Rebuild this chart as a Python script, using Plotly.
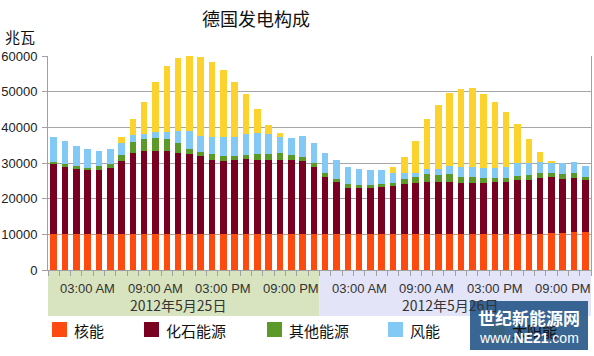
import plotly.graph_objects as go

# ---------------- data ----------------
hours = list(range(48))  # 48 hourly bars, 2 days
nuclear = [10200]*24 + [10100]*20 + [10400, 10500, 10600, 10600]
fossil = [19400, 18800, 18100, 17800, 17800, 18400, 20400, 22700, 23200, 23200, 23300, 22700,
          22300, 21800, 20600, 20500, 20600, 21000, 20600, 20600, 20600, 20700, 20400, 18800,
          16100, 14700, 12900, 12800, 12900, 13300, 13400, 14000, 14400, 14700, 14700, 14700,
          14400, 14400, 14400, 14700, 14700, 15000, 15100, 15800, 15800, 15100, 15200, 14500]
other = [700, 700, 800, 700, 1200, 1200, 1700, 3100, 3300, 3700, 3200, 2800,
         1300, 1200, 1700, 1300, 1200, 1100, 1700, 1700, 2100, 1400, 1200, 1100,
         900, 700, 1000, 800, 800, 700, 1000, 1400, 1700, 2100, 1800, 2100,
         1700, 1700, 1200, 900, 900, 1300, 1400, 1400, 1100, 1300, 1500, 1100]
wind = [7000, 6500, 5700, 5200, 4200, 4000, 3400, 1900, 1400, 1600, 2100, 3400,
        5300, 4500, 4900, 5400, 5400, 5800, 5800, 5600, 4300, 4700, 5700, 5500,
        5700, 5300, 4900, 4600, 4200, 3800, 2600, 1800, 1100, 1400, 1600, 2300,
        2800, 2800, 3000, 3000, 3300, 3500, 3300, 2900, 2600, 3000, 3100, 3100]
solar = [0, 0, 0, 0, 0, 0, 1700, 4500, 9100, 14100, 18500, 20400,
         20800, 22100, 20900, 18700, 15400, 11300, 6900, 2600, 1100, 0, 0, 0,
         0, 0, 0, 0, 0, 0, 1900, 4500, 9000, 14000, 18100, 20300,
         21700, 21900, 20700, 18500, 15400, 11000, 6800, 3000, 700, 0, 0, 0]

series_names = ["核能", "化石能源", "其他能源", "风能", "太阳能"]
series_values = [nuclear, fossil, other, wind, solar]
colors = ["#fd4b10", "#7a0021", "#5b9a29", "#82c9f5", "#fcd22c"]

hour_tick_pos = [3, 9, 15, 21]
hour_tick_labels = ["03:00 AM", "09:00 AM", "03:00 PM", "09:00 PM"]
day_labels = ["2012年5月25日", "2012年5月26日"]
day_colors = ["#d8e4bf", "#e4e4f8"]

title = "德国发电构成"
y_unit = "兆瓦"

# ---------------- layout helpers (page pixel -> paper) ----------------
W, H = 594, 356
L, R, T, B = 48, 3, 56, 86
PW, PH = W - L - R, H - T - B
def px_x(px):
    return (px - L) / PW
def px_y(py):
    return (H - B - py) / PH

CJK = "Noto Sans CJK SC"
LAT = "Liberation Sans, Arial, sans-serif"

fig = go.Figure()
for name, vals, col in zip(series_names, series_values, colors):
    fig.add_trace(go.Bar(x=hours, y=vals, name=name, marker=dict(color=col, line=dict(width=0)),
                         showlegend=False))

shapes = []
annotations = []
# date bands under axis
for d in range(2):
    shapes.append(dict(type="rect", xref="x", yref="paper", x0=d*24-0.5, x1=d*24+23.5,
                       y0=px_y(316), y1=0, fillcolor=day_colors[d], line=dict(width=0), layer="below"))
    for hp, hl in zip(hour_tick_pos, hour_tick_labels):
        annotations.append(dict(x=d*24+hp, y=px_y(288), xref="x", yref="paper", text=hl,
                                showarrow=False, font=dict(family=LAT, size=13, color="#333333"),
                                xanchor="center", yanchor="middle"))
    annotations.append(dict(x=d*24+11, y=px_y(305), xref="x", yref="paper", text=day_labels[d],
                            showarrow=False, font=dict(family=CJK, size=14, color="#333333"),
                            xanchor="center", yanchor="middle"))

# title and unit
annotations.append(dict(x=px_x(256), y=px_y(18), xref="paper", yref="paper", text=title,
                        showarrow=False, font=dict(family=CJK, size=18, color="#111111"),
                        xanchor="center", yanchor="middle"))
annotations.append(dict(x=px_x(3), y=px_y(36), xref="paper", yref="paper", text=y_unit,
                        showarrow=False, font=dict(family=CJK, size=15, color="#111111"),
                        xanchor="left", yanchor="middle"))

# manual legend
leg_x = [52, 144, 267, 388, 490]
for lx, name, col in zip(leg_x, series_names, colors):
    shapes.append(dict(type="rect", xref="paper", yref="paper", x0=px_x(lx), x1=px_x(lx+15),
                       y0=px_y(337), y1=px_y(322), fillcolor=col, line=dict(width=0)))
    annotations.append(dict(x=px_x(lx+20), y=px_y(330), xref="paper", yref="paper", text=name,
                            showarrow=False, font=dict(family=CJK, size=15, color="#111111"),
                            xanchor="left", yanchor="middle"))

# watermark
shapes.append(dict(type="rect", xref="paper", yref="paper", x0=px_x(470), x1=px_x(588),
                   y0=px_y(350), y1=px_y(301), fillcolor="rgba(35,85,135,0.9)",
                   line=dict(width=0)))
annotations.append(dict(x=px_x(529), y=px_y(317), xref="paper", yref="paper", text="<b>世纪新能源网</b>",
                        showarrow=False, font=dict(family=CJK, size=17, color="white"),
                        xanchor="center", yanchor="middle"))
annotations.append(dict(x=px_x(529), y=px_y(338), xref="paper", yref="paper", text="www.<b>NE21</b>.com",
                        showarrow=False, font=dict(family=LAT, size=14, color="white"),
                        xanchor="center", yanchor="middle"))

fig.update_layout(
    width=W, height=H, margin=dict(l=L, r=R, t=T, b=B, autoexpand=False),
    barmode="stack", bargap=0.42,
    paper_bgcolor="white", plot_bgcolor="white",
    shapes=shapes, annotations=annotations,
    xaxis=dict(range=[-0.5, 47.5], tickvals=[i - 0.5 for i in range(49)], showticklabels=False,
               ticks="outside", ticklen=5, tickcolor="#a0a0a0", showgrid=False, zeroline=False,
               showline=True, linecolor="#a0a0a0", linewidth=1, mirror=False, fixedrange=True,
               automargin=False),
    yaxis=dict(range=[0, 60000], dtick=10000, tickformat="d", showgrid=True, gridcolor="#a6a6a6",
               gridwidth=1, ticks="outside", ticklen=5, tickcolor="#a0a0a0", showline=True,
               linecolor="#a0a0a0", linewidth=1, mirror=True, zeroline=False,
               ticklabelstandoff=2, automargin=False,
               tickfont=dict(family=LAT, size=13, color="#222222")),
)

fig.write_html("out.html", config={"displayModeBar": False},
               post_script="document.body.style.margin='0px';document.body.style.padding='0px';")
